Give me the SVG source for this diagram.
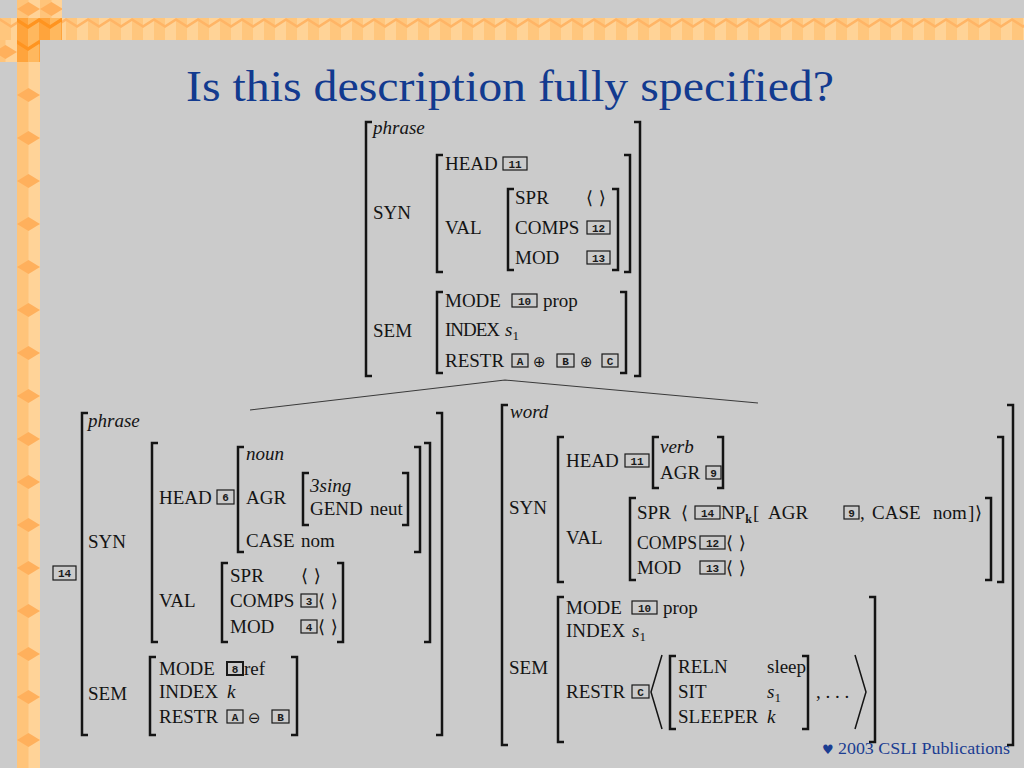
<svg xmlns="http://www.w3.org/2000/svg" width="1024" height="768" viewBox="0 0 1024 768">
<defs>
<style>
.t{font-family:"Liberation Serif",serif;font-size:19px;fill:#141414}
.i{font-style:italic}
.br{fill:none;stroke:#141414;stroke-width:2.5}
.tg{fill:none;stroke:#1a1a1a;stroke-width:1.2}
.tl{font-family:"Liberation Mono",monospace;font-size:11px;font-weight:bold;fill:#1a1a1a;text-anchor:middle}
.s{font-family:"DejaVu Sans",sans-serif;font-size:18px;fill:#141414}
.op{font-family:"DejaVu Sans",sans-serif;font-size:15px;fill:#141414}
.sub{font-size:13px}
.ln{stroke:#3a3a3a;stroke-width:1.1;fill:none}
</style>
<pattern id="ph" width="22" height="22" patternUnits="userSpaceOnUse" x="0" y="18">
<rect width="22" height="22" fill="#ffc67d"/>
<rect x="11" width="11" height="22" fill="#ffd397"/>
<polygon points="0,0 11,7 22,0 22,3 11,10 0,3" fill="#ffb566"/>
</pattern>
<pattern id="pv" width="23" height="43" patternUnits="userSpaceOnUse" x="17" y="0">
<rect width="23" height="43" fill="#ffc47a"/>
<rect x="11.5" width="11.5" height="43" fill="#ffd398"/>
<polygon points="0,9 11.5,2 23,9 11.5,16" fill="#ffb05c"/>
</pattern>
<pattern id="pd" width="22" height="22" patternUnits="userSpaceOnUse" x="17" y="18">
<rect width="22" height="22" fill="#ffa43c"/>
<rect x="11" width="11" height="22" fill="#ffb85e"/>
<polygon points="0,0 11,7 22,0 22,4 11,11 0,4" fill="#ff9420"/>
</pattern>
</defs>
<rect width="1024" height="768" fill="#cbcbcb"/>
<g id="border">
<rect x="17" y="0" width="45" height="18" fill="url(#pv)"/>
<rect x="0" y="18" width="1024" height="22" fill="url(#ph)"/>
<rect x="0" y="40" width="40" height="22" fill="url(#pv)"/>
<rect x="17" y="40" width="23" height="728" fill="url(#pv)"/>
<rect x="17" y="18" width="45" height="22" fill="url(#pd)"/>
<rect x="17" y="40" width="23" height="22" fill="url(#pd)"/>
</g>
<text id="title" x="186" y="101" font-family="Liberation Serif, serif" font-size="44" fill="#123a8f" textLength="648" lengthAdjust="spacingAndGlyphs">Is this description fully specified?</text>

<g id="connectors">
<path class="ln" d="M250 410 L505 380 L758 403"/>
</g>

<g id="top-avm">
<path class="br" d="M372 122H366V376H372M634 122H640V376H634"/>
<path class="br" d="M443 155H437V272H443M624 155H630V272H624"/>
<path class="br" d="M514 189H508V270H514M612 189H618V270H612"/>
<path class="br" d="M443 292H437V373H443M620 292H626V373H620"/>
<text class="t i" x="373" y="134">phrase</text>
<text class="t" x="373" y="219">SYN</text>
<text class="t" x="445" y="170">HEAD</text>
<rect class="tg" x="503" y="157" width="24" height="13"/><text class="tl" x="515" y="167.5">11</text>
<text class="t" x="445" y="234">VAL</text>
<text class="t" x="515" y="204">SPR</text><text class="s" x="586" y="204">⟨ ⟩</text>
<text class="t" x="515" y="234">COMPS</text>
<rect class="tg" x="587" y="221" width="23" height="13"/><text class="tl" x="598.5" y="231.5">12</text>
<text class="t" x="515" y="264">MOD</text>
<rect class="tg" x="587" y="251" width="23" height="13"/><text class="tl" x="598.5" y="261.5">13</text>
<text class="t" x="373" y="337">SEM</text>
<text class="t" x="445" y="307">MODE</text>
<rect class="tg" x="512" y="294" width="25" height="13"/><text class="tl" x="524.5" y="304.5">10</text>
<text class="t" x="543" y="307">prop</text>
<text class="t" x="445" y="336" textLength="55" lengthAdjust="spacing">INDEX</text>
<text class="t" x="505" y="336"><tspan class="i">s</tspan><tspan class="sub" dy="4">1</tspan></text>
<text class="t" x="445" y="367">RESTR</text>
<rect class="tg" x="512" y="354" width="16" height="13"/><text class="tl" x="520" y="364.5">A</text>
<text class="op" x="533" y="367">⊕</text>
<rect class="tg" x="557" y="354" width="17" height="13"/><text class="tl" x="565.5" y="364.5">B</text>
<text class="op" x="580" y="367">⊕</text>
<rect class="tg" x="602" y="354" width="16" height="13"/><text class="tl" x="610" y="364.5">C</text>
</g>

<g id="left-avm">
<rect class="tg" x="53" y="566" width="23" height="14"/><text class="tl" x="64.5" y="576.5">14</text>
<path class="br" d="M88 413H82V735H88M436 413H442V735H436"/>
<path class="br" d="M158 443H152V642H158M424 443H430V642H424"/>
<path class="br" d="M244 447H238V552H244M414 447H420V552H414"/>
<path class="br" d="M309 473H303V525H309M402 473H408V525H402"/>
<path class="br" d="M228 563H222V642H228M337 563H343V642H337"/>
<path class="br" d="M156 657H150V735H156M291 657H297V735H291"/>
<text class="t i" x="88" y="427">phrase</text>
<text class="t" x="88" y="548">SYN</text>
<text class="t" x="159" y="504">HEAD</text>
<rect class="tg" x="217" y="490" width="17" height="14"/><text class="tl" x="225.5" y="500.5">6</text>
<text class="t i" x="246" y="460">noun</text>
<text class="t" x="246" y="504">AGR</text>
<text class="t i" x="310" y="492">3sing</text>
<text class="t" x="310" y="515">GEND <tspan x="370">neut</tspan></text>
<text class="t" x="246" y="547">CASE <tspan x="301">nom</tspan></text>
<text class="t" x="159" y="607">VAL</text>
<text class="t" x="230" y="582">SPR</text><text class="s" x="301" y="582">⟨ ⟩</text>
<text class="t" x="230" y="607">COMPS</text>
<rect class="tg" x="301" y="594" width="16" height="13"/><text class="tl" x="309" y="604.5">3</text>
<text class="s" x="318" y="607">⟨ ⟩</text>
<text class="t" x="230" y="633">MOD</text>
<rect class="tg" x="301" y="620" width="16" height="13"/><text class="tl" x="309" y="630.5">4</text>
<text class="s" x="318" y="633">⟨ ⟩</text>
<text class="t" x="88" y="700">SEM</text>
<text class="t" x="159" y="675">MODE</text>
<rect x="227" y="662" width="16" height="13" fill="none" stroke="#1a1a1a" stroke-width="2"/><text class="tl" x="235" y="672.5">8</text>
<text class="t" x="244" y="675">ref</text>
<text class="t" x="159" y="698">INDEX <tspan class="i" x="227">k</tspan></text>
<text class="t" x="159" y="723">RESTR</text>
<rect class="tg" x="227" y="710" width="16" height="13"/><text class="tl" x="235" y="720.5">A</text>
<text class="op" x="248" y="723">⊖</text>
<rect class="tg" x="272" y="710" width="17" height="13"/><text class="tl" x="280.5" y="720.5">B</text>
</g>

<g id="right-avm">
<path class="br" d="M508 405H502V745H508M1007 405H1013V745H1007"/>
<path class="br" d="M564 437H558V582H564M997 437H1003V582H997"/>
<path class="br" d="M659 437H653V488H659M717 437H723V488H717"/>
<path class="br" d="M636 498H630V580H636M985 498H991V580H985"/>
<path class="br" d="M564 597H558V742H564M869 597H875V742H869"/>
<path class="br" d="M676 656H670V729H676M802 656H808V729H802"/>
<path fill="none" stroke="#141414" stroke-width="1.5" d="M662 655L651 692L662 729M855 655L866 692L855 729"/>
<text class="t i" x="510" y="418">word</text>
<text class="t" x="509" y="514">SYN</text>
<text class="t" x="566" y="467">HEAD</text>
<rect class="tg" x="625" y="454" width="24" height="13"/><text class="tl" x="637" y="464.5">11</text>
<text class="t i" x="660" y="453">verb</text>
<text class="t" x="660" y="479">AGR</text>
<rect class="tg" x="706" y="466" width="15" height="13"/><text class="tl" x="713.5" y="476.5">9</text>
<text class="t" x="566" y="544">VAL</text>
<text class="t" x="637" y="519">SPR</text>
<text class="s" x="681" y="519">⟨</text>
<rect class="tg" x="695" y="506" width="25" height="13"/><text class="tl" x="707.5" y="516.5">14</text>
<text class="t" x="721" y="519">NP<tspan font-size="12" font-weight="bold" dy="4">k</tspan><tspan dy="-4" x="753">[</tspan><tspan x="768">AGR</tspan></text>
<rect class="tg" x="844" y="506" width="15" height="13"/><text class="tl" x="851.5" y="516.5">9</text>
<text class="t" x="860" y="519">,<tspan x="872">CASE</tspan><tspan x="933">nom</tspan><tspan x="968">]</tspan></text>
<text class="s" x="975" y="519">⟩</text>
<text class="t" x="637" y="549" textLength="60" lengthAdjust="spacingAndGlyphs">COMPS</text>
<rect class="tg" x="700" y="536" width="25" height="13"/><text class="tl" x="712.5" y="546.5">12</text>
<text class="s" x="726" y="549">⟨ ⟩</text>
<text class="t" x="637" y="574">MOD</text>
<rect class="tg" x="700" y="561" width="25" height="13"/><text class="tl" x="712.5" y="571.5">13</text>
<text class="s" x="726" y="574">⟨ ⟩</text>
<text class="t" x="509" y="674">SEM</text>
<text class="t" x="566" y="614">MODE</text>
<rect class="tg" x="632" y="601" width="25" height="13"/><text class="tl" x="644.5" y="611.5">10</text>
<text class="t" x="663" y="614">prop</text>
<text class="t" x="566" y="637">INDEX <tspan class="i" x="632">s</tspan><tspan class="sub" dy="4">1</tspan></text>
<text class="t" x="566" y="698">RESTR</text>
<rect class="tg" x="632" y="685" width="17" height="13"/><text class="tl" x="640.5" y="695.5">C</text>
<text class="t" x="678" y="673">RELN <tspan x="767">sleep</tspan></text>
<text class="t" x="678" y="698">SIT <tspan class="i" x="767">s</tspan><tspan class="sub" dy="4">1</tspan></text>
<text class="t" x="678" y="723">SLEEPER <tspan class="i" x="767">k</tspan></text>
<text class="t" x="816" y="698">, . . .</text>
</g>

<text id="footer" x="822" y="754" font-family="Liberation Serif, serif" font-size="17" fill="#1b3d92"><tspan font-family="DejaVu Sans, sans-serif" font-size="13">♥</tspan><tspan x="838" textLength="172" lengthAdjust="spacingAndGlyphs">2003 CSLI Publications</tspan></text>
</svg>
